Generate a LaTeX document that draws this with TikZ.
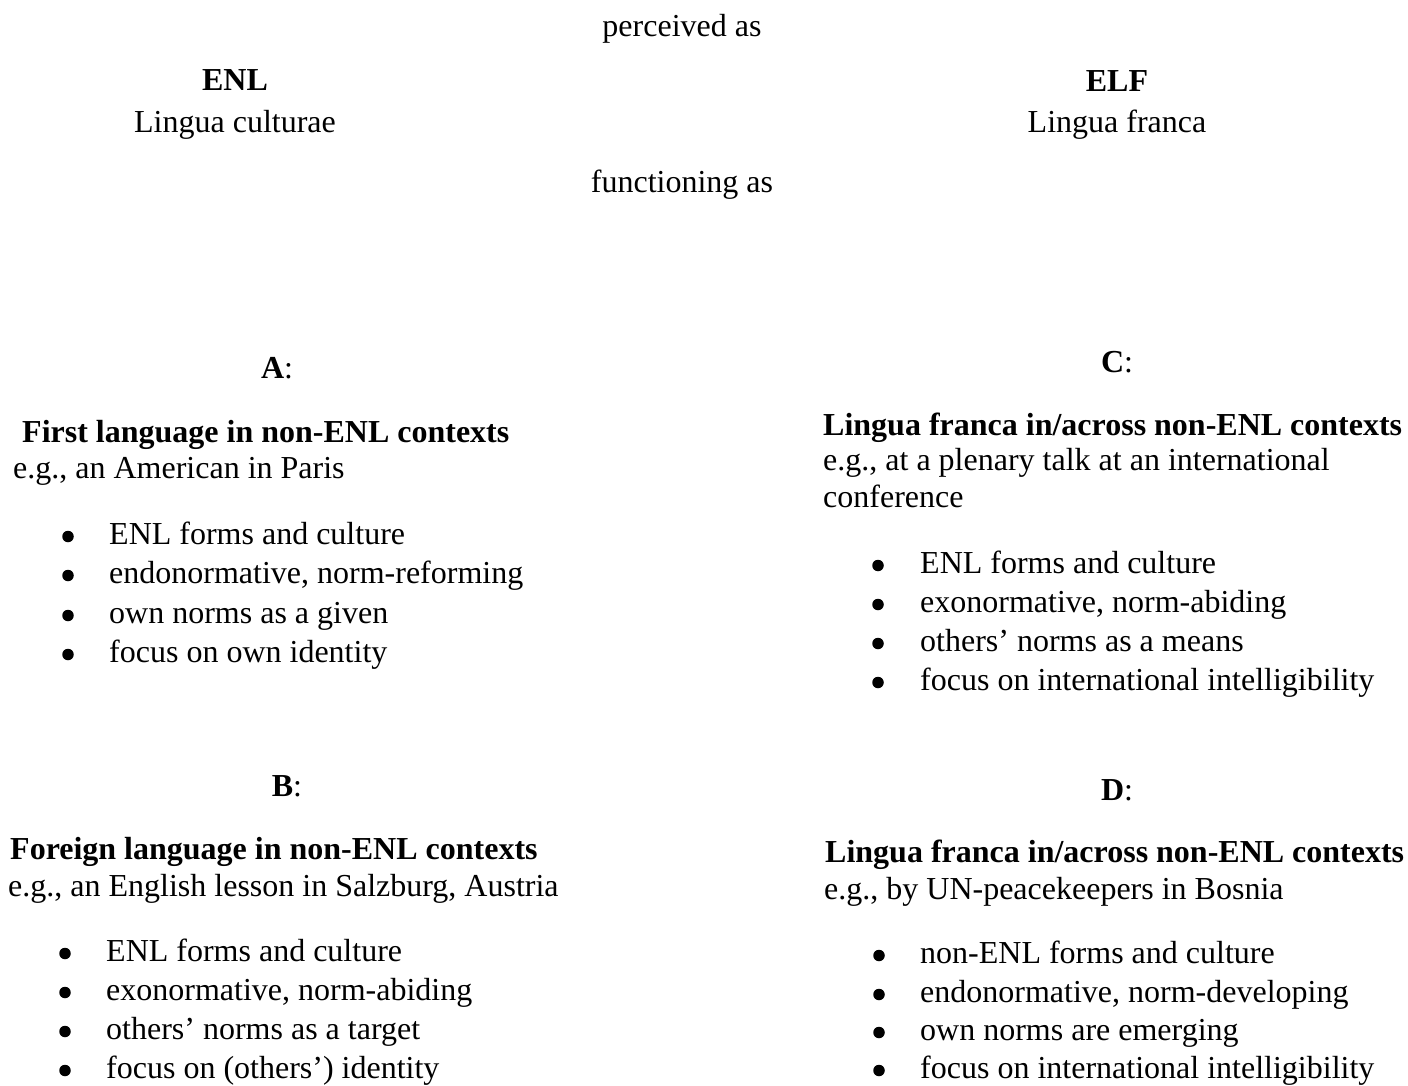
\documentclass[tikz,border=0pt]{standalone}
\usepackage{fontspec}
\setmainfont{Liberation Serif}
\begin{document}
\begin{tikzpicture}[x=1pt,y=-1pt,
  every node/.style={font=\fontsize{32pt}{39pt}\selectfont, inner sep=0pt, text=black},
  ctr/.style={anchor=base},
  lft/.style={anchor=base west},
  ttl/.style={anchor=base west, font=\fontsize{32pt}{39pt}\selectfont\bfseries},
  bul/.style={circle, fill=black, minimum size=11.5pt, inner sep=0pt}]
\useasboundingbox[fill=white] (0,0) rectangle (1408,1086);
% header
\node[ctr] (perc) at (682,37) {perceived as};
\node[ctr] (enl) at (235,91) {\textbf{ENL}};
\node[ctr] (enlsub) at (235,133) {Lingua culturae};
\node[ctr] (elf) at (1117,92) {\textbf{ELF}};
\node[ctr] (elfsub) at (1117,133) {Lingua franca};
\node[ctr] (func) at (682,193) {functioning as};
% A
\node[ctr] (alab) at (277,378) {\textbf{A}:};
\node[ttl] (atit) at (22,442) {First language in non-ENL contexts};
\node[lft] (aeg) at (13,478) {e.g., an American in Paris};
\foreach \t/\y [count=\i] in {ENL forms and culture/544, {endonormative, norm-reforming}/583, own norms as a given/623, focus on own identity/662}{
  \node[bul] (ab\i) at (68,\y-7.5) {};
  \node[lft] (at\i) at (109,\y) {\t};
}
% C
\node[ctr] (clab) at (1117,372) {\textbf{C}:};
\node[ttl] (ctit) at (823,435) {Lingua franca in/across non-ENL contexts};
\node[lft] (ceg) at (823,470) {e.g., at a plenary talk at an international};
\node[lft] (ceg2) at (823,507) {conference};
\foreach \t/\y [count=\i] in {ENL forms and culture/573, {exonormative, norm-abiding}/612, others’ norms as a means/651, focus on international intelligibility/690}{
  \node[bul] (cb\i) at (878,\y-7.5) {};
  \node[lft] (ct\i) at (920,\y) {\t};
}
% B
\node[ctr] (blab) at (287,796) {\textbf{B}:};
\node[ttl] (btit) at (10,859) {Foreign language in non-ENL contexts};
\node[lft] (beg) at (8,896) {e.g., an English lesson in Salzburg, Austria};
\foreach \t/\y [count=\i] in {ENL forms and culture/961, {exonormative, norm-abiding}/1000, others’ norms as a target/1039, focus on (others’) identity/1078}{
  \node[bul] (bb\i) at (65,\y-7.5) {};
  \node[lft] (bt\i) at (106,\y) {\t};
}
% D
\node[ctr] (dlab) at (1117,800) {\textbf{D}:};
\node[ttl] (dtit) at (825,862) {Lingua franca in/across non-ENL contexts};
\node[lft] (deg) at (824,899) {e.g., by UN-peacekeepers in Bosnia};
\foreach \t/\y [count=\i] in {non-ENL forms and culture/963, {endonormative, norm-developing}/1002, own norms are emerging/1040, focus on international intelligibility/1078}{
  \node[bul] (db\i) at (879,\y-7.5) {};
  \node[lft] (dt\i) at (920,\y) {\t};
}
\end{tikzpicture}
\end{document}
